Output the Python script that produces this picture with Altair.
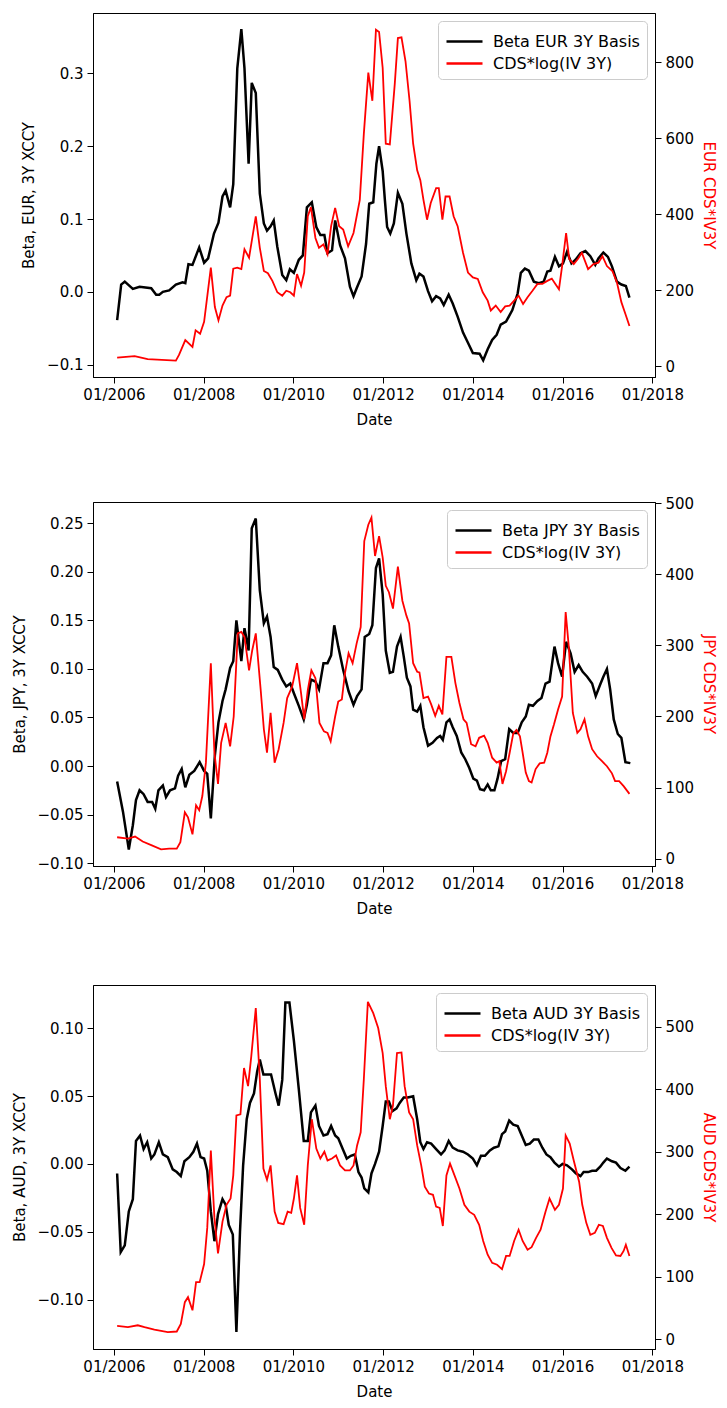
import altair as alt
import pandas as pd

FONT = "DejaVu Sans"

# ---------------- data (fractional years) -------------
eur_beta_t = [2006.07, 2006.16, 2006.24, 2006.42, 2006.57, 2006.83, 2006.94, 2007.01, 2007.09, 2007.23,
              2007.38, 2007.53, 2007.59, 2007.66, 2007.75, 2007.90, 2008.01, 2008.10, 2008.23, 2008.33,
              2008.42, 2008.49, 2008.59, 2008.66, 2008.75, 2008.84, 2008.91, 2009.00, 2009.07, 2009.16,
              2009.25, 2009.34, 2009.41, 2009.49, 2009.56, 2009.64, 2009.75, 2009.84, 2009.92, 2010.01,
              2010.12, 2010.21, 2010.30, 2010.41, 2010.51, 2010.60, 2010.69, 2010.76, 2010.86, 2010.93,
              2011.04, 2011.15, 2011.26, 2011.34, 2011.41, 2011.52, 2011.62, 2011.69, 2011.78, 2011.85,
              2011.91, 2011.99, 2012.04, 2012.09, 2012.16, 2012.24, 2012.33, 2012.43, 2012.52, 2012.63,
              2012.74, 2012.81, 2012.90, 2013.00, 2013.09, 2013.18, 2013.27, 2013.35, 2013.46, 2013.55,
              2013.66, 2013.78, 2013.89, 2014.00, 2014.15, 2014.23, 2014.33, 2014.43, 2014.53, 2014.62,
              2014.74, 2014.88, 2015.00, 2015.07, 2015.16, 2015.25, 2015.36, 2015.47, 2015.58, 2015.66,
              2015.73, 2015.83, 2015.92, 2016.01, 2016.10, 2016.20, 2016.29, 2016.40, 2016.51, 2016.62,
              2016.73, 2016.80, 2016.91, 2017.01, 2017.10, 2017.21, 2017.31, 2017.41, 2017.49]
eur_beta_v = [-0.039, 0.010, 0.014, 0.004, 0.007, 0.005, -0.004, -0.004, 0.000, 0.002,
              0.010, 0.013, 0.012, 0.038, 0.037, 0.061, 0.040, 0.046, 0.080, 0.095,
              0.131, 0.139, 0.116, 0.148, 0.307, 0.361, 0.307, 0.176, 0.287, 0.273,
              0.135, 0.094, 0.084, 0.090, 0.098, 0.062, 0.023, 0.016, 0.031, 0.026,
              0.044, 0.050, 0.116, 0.123, 0.089, 0.078, 0.078, 0.053, 0.057, 0.098,
              0.064, 0.046, 0.007, -0.006, 0.005, 0.021, 0.066, 0.121, 0.123, 0.176,
              0.200, 0.166, 0.126, 0.089, 0.080, 0.094, 0.136, 0.121, 0.080, 0.039,
              0.016, 0.025, 0.021, 0.001, -0.013, -0.006, -0.009, -0.018, -0.004, -0.016,
              -0.034, -0.056, -0.070, -0.084, -0.085, -0.094, -0.079, -0.066, -0.059, -0.045,
              -0.041, -0.025, -0.002, 0.026, 0.032, 0.029, 0.014, 0.012, 0.014, 0.028,
              0.029, 0.048, 0.035, 0.039, 0.055, 0.039, 0.044, 0.053, 0.056, 0.049,
              0.037, 0.046, 0.054, 0.048, 0.035, 0.014, 0.010, 0.008, -0.008]

eur_cds_t = [2006.07, 2006.46, 2006.75, 2007.38, 2007.45, 2007.59, 2007.75, 2007.82, 2007.92, 2008.01,
             2008.16, 2008.25, 2008.33, 2008.42, 2008.51, 2008.59, 2008.66, 2008.75, 2008.84, 2008.91,
             2009.01, 2009.16, 2009.25, 2009.34, 2009.43, 2009.53, 2009.64, 2009.75, 2009.84, 2009.93,
             2010.01, 2010.08, 2010.17, 2010.24, 2010.32, 2010.39, 2010.49, 2010.57, 2010.67, 2010.76,
             2010.84, 2010.93, 2011.02, 2011.11, 2011.22, 2011.34, 2011.48, 2011.57, 2011.67, 2011.76,
             2011.84, 2011.91, 2011.99, 2012.06, 2012.15, 2012.26, 2012.33, 2012.41, 2012.50, 2012.59,
             2012.67, 2012.76, 2012.83, 2012.90, 2012.98, 2013.06, 2013.18, 2013.24, 2013.32, 2013.39,
             2013.48, 2013.57, 2013.66, 2013.78, 2013.89, 2014.00, 2014.11, 2014.22, 2014.33, 2014.40,
             2014.51, 2014.62, 2014.72, 2014.82, 2014.92, 2015.02, 2015.12, 2015.22, 2015.33, 2015.44,
             2015.55, 2015.66, 2015.76, 2015.84, 2015.92, 2015.99, 2016.08, 2016.15, 2016.25, 2016.35,
             2016.43, 2016.57, 2016.69, 2016.80, 2016.89, 2016.99, 2017.11, 2017.21, 2017.31, 2017.40,
             2017.49]
eur_cds_v = [23, 27, 19, 15, 30, 69, 51, 95, 86, 117,
             260, 156, 121, 160, 182, 186, 257, 260, 256, 308,
             286, 395, 312, 251, 245, 225, 195, 186, 199, 195,
             186, 243, 212, 247, 395, 419, 338, 312, 321, 295,
             369, 417, 369, 360, 316, 351, 438, 612, 773, 699,
             886, 880, 786, 586, 584, 743, 864, 866, 803, 699,
             586, 516, 490, 438, 386, 430, 469, 469, 386, 447,
             447, 395, 369, 299, 247, 234, 230, 195, 173, 147,
             160, 143, 158, 160, 173, 186, 164, 182, 199, 217,
             217, 225, 231, 217, 203, 264, 351, 282, 269, 284,
             299, 256, 269, 273, 290, 264, 251, 221, 169, 138,
             106]

jpy_beta_t = [2006.07, 2006.20, 2006.33, 2006.42, 2006.49, 2006.57, 2006.66, 2006.75, 2006.85, 2006.92,
              2006.99, 2007.09, 2007.16, 2007.25, 2007.36, 2007.43, 2007.51, 2007.59, 2007.68, 2007.79,
              2007.91, 2008.01, 2008.08, 2008.16, 2008.25, 2008.33, 2008.42, 2008.49, 2008.59, 2008.66,
              2008.73, 2008.84, 2008.91, 2009.00, 2009.07, 2009.16, 2009.25, 2009.34, 2009.41, 2009.49,
              2009.56, 2009.65, 2009.75, 2009.84, 2009.93, 2010.01, 2010.12, 2010.23, 2010.30, 2010.39,
              2010.49, 2010.57, 2010.67, 2010.76, 2010.84, 2010.91, 2011.00, 2011.11, 2011.23, 2011.34,
              2011.42, 2011.52, 2011.59, 2011.69, 2011.76, 2011.84, 2011.91, 2011.99, 2012.06, 2012.15,
              2012.22, 2012.31, 2012.39, 2012.46, 2012.53, 2012.61, 2012.67, 2012.76, 2012.83, 2012.90,
              2013.00, 2013.10, 2013.20, 2013.27, 2013.33, 2013.41, 2013.48, 2013.55, 2013.64, 2013.74,
              2013.83, 2013.92, 2014.01, 2014.09, 2014.16, 2014.25, 2014.33, 2014.40, 2014.48, 2014.55,
              2014.63, 2014.72, 2014.81, 2014.90, 2015.00, 2015.09, 2015.18, 2015.25, 2015.34, 2015.44,
              2015.53, 2015.62, 2015.71, 2015.82, 2015.90, 2015.99, 2016.08, 2016.18, 2016.27, 2016.36,
              2016.45, 2016.55, 2016.66, 2016.74, 2016.84, 2016.91, 2016.99, 2017.06, 2017.14, 2017.23,
              2017.31, 2017.40, 2017.51]
jpy_beta_v = [-0.016, -0.047, -0.086, -0.061, -0.035, -0.025, -0.029, -0.037, -0.037, -0.044,
              -0.025, -0.020, -0.032, -0.025, -0.023, -0.010, -0.003, -0.022, -0.009, -0.005,
              0.004, -0.005, -0.008, -0.054, 0.011, 0.045, 0.067, 0.079, 0.101, 0.108,
              0.150, 0.108, 0.142, 0.119, 0.245, 0.255, 0.181, 0.147, 0.154, 0.133,
              0.102, 0.099, 0.089, 0.082, 0.085, 0.075, 0.062, 0.048, 0.063, 0.089,
              0.087, 0.079, 0.106, 0.106, 0.114, 0.145, 0.123, 0.099, 0.077, 0.063,
              0.072, 0.079, 0.133, 0.136, 0.145, 0.204, 0.214, 0.177, 0.119, 0.096,
              0.097, 0.123, 0.133, 0.113, 0.091, 0.082, 0.058, 0.056, 0.062, 0.040,
              0.021, 0.024, 0.029, 0.031, 0.027, 0.045, 0.048, 0.040, 0.031, 0.014,
              0.007, -0.002, -0.013, -0.015, -0.024, -0.025, -0.019, -0.025, -0.025, -0.013,
              0.005, 0.007, 0.038, 0.034, 0.034, 0.045, 0.051, 0.063, 0.062, 0.067,
              0.070, 0.085, 0.087, 0.123, 0.106, 0.092, 0.128, 0.116, 0.097, 0.104,
              0.097, 0.092, 0.085, 0.072, 0.084, 0.092, 0.100, 0.079, 0.048, 0.033,
              0.029, 0.004, 0.003]

jpy_cds_t = [2006.07, 2006.31, 2006.47, 2006.64, 2006.83, 2007.05, 2007.23, 2007.40, 2007.48, 2007.58,
             2007.65, 2007.75, 2007.83, 2007.90, 2007.97, 2008.05, 2008.16, 2008.24, 2008.32, 2008.39,
             2008.49, 2008.59, 2008.67, 2008.76, 2008.84, 2008.91, 2009.01, 2009.08, 2009.16, 2009.27,
             2009.34, 2009.41, 2009.49, 2009.58, 2009.67, 2009.78, 2009.86, 2009.97, 2010.08, 2010.17,
             2010.24, 2010.32, 2010.40, 2010.49, 2010.58, 2010.68, 2010.76, 2010.83, 2010.93, 2011.00,
             2011.08, 2011.15, 2011.23, 2011.32, 2011.41, 2011.50, 2011.58, 2011.67, 2011.74, 2011.82,
             2011.91, 2011.99, 2012.06, 2012.13, 2012.22, 2012.33, 2012.43, 2012.52, 2012.58, 2012.67,
             2012.76, 2012.81, 2012.90, 2013.00, 2013.07, 2013.16, 2013.24, 2013.32, 2013.41, 2013.52,
             2013.61, 2013.70, 2013.79, 2013.86, 2013.96, 2014.06, 2014.14, 2014.25, 2014.33, 2014.43,
             2014.53, 2014.59, 2014.66, 2014.74, 2014.82, 2014.90, 2014.97, 2015.05, 2015.11, 2015.18,
             2015.25, 2015.31, 2015.40, 2015.49, 2015.59, 2015.66, 2015.73, 2015.81, 2015.90, 2015.99,
             2016.07, 2016.14, 2016.23, 2016.33, 2016.40, 2016.49, 2016.57, 2016.66, 2016.77, 2016.88,
             2016.99, 2017.10, 2017.17, 2017.26, 2017.36, 2017.49]
jpy_cds_v = [30, 28, 31, 24, 19, 13, 14, 14, 23, 65,
             58, 34, 75, 68, 88, 135, 275, 149, 105, 163,
             191, 158, 200, 317, 319, 312, 265, 293, 317, 237,
             182, 149, 205, 135, 154, 191, 226, 242, 275, 233,
             196, 237, 265, 254, 191, 179, 177, 165, 200, 221,
             224, 261, 289, 275, 303, 326, 447, 470, 480, 426,
             454, 424, 384, 375, 352, 411, 363, 342, 331, 275,
             263, 262, 226, 228, 217, 201, 215, 203, 284, 284,
             247, 219, 196, 191, 161, 158, 170, 173, 163, 142,
             135, 137, 105, 123, 149, 176, 181, 172, 149, 121,
             109, 107, 126, 134, 135, 149, 172, 189, 210, 228,
             347, 298, 205, 177, 182, 196, 172, 154, 144, 137,
             130, 120, 109, 109, 102, 91]

aud_beta_t = [2006.07, 2006.15, 2006.24, 2006.33, 2006.42, 2006.49, 2006.58, 2006.66, 2006.74, 2006.83,
              2006.90, 2007.00, 2007.09, 2007.20, 2007.31, 2007.40, 2007.49, 2007.57, 2007.68, 2007.77,
              2007.85, 2007.93, 2008.01, 2008.08, 2008.16, 2008.24, 2008.32, 2008.42, 2008.49, 2008.56,
              2008.65, 2008.73, 2008.81, 2008.88, 2008.96, 2009.03, 2009.12, 2009.19, 2009.25, 2009.33,
              2009.41, 2009.50, 2009.60, 2009.67, 2009.75, 2009.82, 2009.91, 2010.01, 2010.12, 2010.23,
              2010.32, 2010.39, 2010.49, 2010.57, 2010.67, 2010.76, 2010.84, 2010.93, 2011.00, 2011.10,
              2011.19, 2011.28, 2011.37, 2011.45, 2011.52, 2011.58, 2011.67, 2011.74, 2011.82, 2011.91,
              2011.99, 2012.06, 2012.13, 2012.21, 2012.30, 2012.37, 2012.46, 2012.55, 2012.67, 2012.76,
              2012.83, 2012.90, 2012.98, 2013.07, 2013.18, 2013.29, 2013.37, 2013.46, 2013.55, 2013.66,
              2013.78, 2013.89, 2014.00, 2014.09, 2014.18, 2014.27, 2014.38, 2014.47, 2014.57, 2014.65,
              2014.72, 2014.81, 2014.90, 2015.00, 2015.09, 2015.18, 2015.27, 2015.36, 2015.46, 2015.55,
              2015.64, 2015.73, 2015.82, 2015.92, 2016.00, 2016.10, 2016.21, 2016.30, 2016.40, 2016.47,
              2016.57, 2016.66, 2016.75, 2016.84, 2016.91, 2016.99, 2017.10, 2017.19, 2017.29, 2017.40,
              2017.49]
aud_beta_v = [-0.007, -0.065, -0.060, -0.035, -0.026, 0.017, 0.021, 0.011, 0.016, 0.004,
              0.007, 0.016, 0.007, 0.005, -0.004, -0.006, -0.009, 0.002, 0.005, 0.009,
              0.015, 0.005, 0.004, -0.005, -0.035, -0.057, -0.037, -0.026, -0.030, -0.045,
              -0.052, -0.124, -0.050, -0.001, 0.033, 0.045, 0.052, 0.068, 0.077, 0.066,
              0.066, 0.066, 0.052, 0.043, 0.062, 0.119, 0.119, 0.091, 0.055, 0.017,
              0.017, 0.038, 0.043, 0.028, 0.021, 0.022, 0.028, 0.021, 0.019, 0.011,
              0.004, 0.006, 0.007, -0.006, -0.010, -0.018, -0.021, -0.007, 0.000, 0.009,
              0.028, 0.046, 0.046, 0.039, 0.041, 0.045, 0.049, 0.049, 0.050, 0.033,
              0.016, 0.011, 0.016, 0.015, 0.011, 0.007, 0.010, 0.017, 0.012, 0.010,
              0.009, 0.007, 0.004, -0.001, 0.006, 0.006, 0.010, 0.012, 0.013, 0.022,
              0.024, 0.032, 0.029, 0.028, 0.021, 0.014, 0.015, 0.018, 0.018, 0.012,
              0.007, 0.005, 0.001, -0.002, 0.000, -0.001, -0.004, -0.007, -0.009, -0.006,
              -0.006, -0.005, -0.005, -0.002, 0.001, 0.004, 0.002, 0.001, -0.003, -0.005,
              -0.002]

aud_cds_t = [2006.07, 2006.31, 2006.53, 2006.68, 2006.90, 2007.20, 2007.40, 2007.49, 2007.58, 2007.65,
             2007.75, 2007.83, 2007.91, 2008.01, 2008.08, 2008.16, 2008.24, 2008.32, 2008.42, 2008.51,
             2008.60, 2008.66, 2008.73, 2008.82, 2008.90, 2008.99, 2009.06, 2009.16, 2009.25, 2009.33,
             2009.41, 2009.49, 2009.58, 2009.66, 2009.78, 2009.87, 2009.95, 2010.01, 2010.08, 2010.15,
             2010.24, 2010.32, 2010.41, 2010.51, 2010.60, 2010.69, 2010.76, 2010.86, 2010.95, 2011.04,
             2011.15, 2011.26, 2011.34, 2011.42, 2011.50, 2011.57, 2011.66, 2011.78, 2011.89, 2011.99,
             2012.06, 2012.15, 2012.22, 2012.31, 2012.41, 2012.48, 2012.58, 2012.67, 2012.76, 2012.85,
             2012.93, 2013.02, 2013.11, 2013.18, 2013.26, 2013.33, 2013.41, 2013.49, 2013.59, 2013.70,
             2013.81, 2013.92, 2014.03, 2014.14, 2014.23, 2014.33, 2014.43, 2014.54, 2014.65, 2014.74,
             2014.82, 2014.92, 2015.02, 2015.11, 2015.22, 2015.31, 2015.41, 2015.51, 2015.62, 2015.71,
             2015.83, 2015.92, 2016.01, 2016.07, 2016.16, 2016.25, 2016.37, 2016.44, 2016.53, 2016.62,
             2016.72, 2016.81, 2016.90, 2016.99, 2017.09, 2017.19, 2017.29, 2017.36, 2017.41, 2017.49]
aud_cds_v = [21, 19, 22, 19, 15, 11, 12, 24, 59, 67,
             46, 91, 91, 120, 178, 302, 194, 137, 188, 215,
             225, 262, 358, 360, 434, 405, 453, 530, 416, 273,
             255, 278, 204, 186, 184, 204, 202, 225, 262, 210,
             183, 278, 352, 305, 289, 300, 286, 289, 294, 278,
             270, 270, 278, 310, 331, 416, 540, 522, 498, 458,
             405, 352, 374, 458, 459, 405, 363, 352, 310, 278,
             244, 233, 231, 212, 210, 181, 262, 281, 262, 241,
             215, 204, 199, 183, 157, 135, 122, 119, 112, 133,
             133, 157, 175, 157, 143, 147, 162, 175, 204, 225,
             207, 215, 241, 326, 313, 286, 252, 215, 186, 167,
             170, 183, 181, 162, 146, 134, 133, 141, 151, 133]

CDS_LABEL = "CDS*log(IV 3Y)"
X_TICK_YEARS = [2006, 2008, 2010, 2012, 2014, 2016, 2018]

W, H = 562, 364


def to_dates(ts):
    return [pd.Timestamp(int(t), 1, 1) + pd.Timedelta(days=(t - int(t)) * 365.25) for t in ts]


def panel(ccy, bt, bv, ct, cv, ldom, lticks, lfmt, rdom, rticks):
    beta_label = f"Beta {ccy} 3Y Basis"
    df_b = pd.DataFrame({"date": to_dates(bt), "value": bv, "series": beta_label})
    df_c = pd.DataFrame({"date": to_dates(ct), "value": cv, "series": CDS_LABEL})

    color = alt.Color(
        "series:N",
        scale=alt.Scale(domain=[beta_label, CDS_LABEL], range=["#000000", "#ff0000"]),
        legend=alt.Legend(
            title=None, orient="top-right", offset=8,
            fillColor="white", strokeColor="#cccccc", cornerRadius=4,
            padding=7, symbolType="M-1.5,0H1.5", symbolSize=576,
            symbolStrokeWidth=2.3, symbolOffset=6,
            labelFont=FONT, labelFontSize=16,
            labelColor="#000000", labelOffset=15, rowPadding=0,
        ),
    )
    x = alt.X(
        "date:T",
        scale=alt.Scale(
            domain=[alt.DateTime(year=2005, month=7, date=14),
                    alt.DateTime(year=2018, month=1, date=23)],
            nice=False,
        ),
        axis=alt.Axis(
            title="Date", format="%m/%Y", labelFlush=False,
            values=[alt.DateTime(year=y, month=1, date=1) for y in X_TICK_YEARS],
        ),
    )
    beta = alt.Chart(df_b).mark_line(strokeWidth=2.5).encode(
        x=x,
        y=alt.Y("value:Q", scale=alt.Scale(domain=ldom, nice=False, zero=False),
                axis=alt.Axis(orient="left", title=f"Beta, {ccy}, 3Y XCCY",
                              values=lticks, format=lfmt, titlePadding=10)),
        color=color,
    )
    cds = alt.Chart(df_c).mark_line(strokeWidth=1.8).encode(
        x=x,
        y=alt.Y("value:Q", scale=alt.Scale(domain=rdom, nice=False, zero=False),
                axis=alt.Axis(orient="right", title=f"{ccy} CDS*IV3Y", titleColor="#ff0000",
                              values=rticks, format="d", titlePadding=7)),
        color=color,
    )
    return alt.layer(beta, cds).resolve_scale(y="independent").properties(width=W, height=H)


p1 = panel("EUR", eur_beta_t, eur_beta_v, eur_cds_t, eur_cds_v,
           [-0.117, 0.383], [-0.1, 0.0, 0.1, 0.2, 0.3], ".1f",
           [-28, 930], [0, 200, 400, 600, 800])
p2 = panel("JPY", jpy_beta_t, jpy_beta_v, jpy_cds_t, jpy_cds_v,
           [-0.103, 0.272], [-0.10, -0.05, 0.0, 0.05, 0.10, 0.15, 0.20, 0.25], ".2f",
           [-10.5, 502], [0, 100, 200, 300, 400, 500])
p3 = panel("AUD", aud_beta_t, aud_beta_v, aud_cds_t, aud_cds_v,
           [-0.1365, 0.132], [-0.10, -0.05, 0.0, 0.05, 0.10], ".2f",
           [-16, 567], [0, 100, 200, 300, 400, 500])

chart = (
    alt.vconcat(p1, p2, p3, spacing=67)
    .resolve_scale(color="independent")
    .resolve_legend(color="independent")
    .properties(padding={"left": 3, "top": 4, "right": 0, "bottom": 2})
    .configure(background="white")
    .configure_view(stroke="#000000", strokeWidth=1)
    .configure_axis(
        grid=False, domainColor="#000000", domainWidth=1,
        tickColor="#000000", tickSize=6, tickWidth=1, labelPadding=4,
        labelFont=FONT, labelFontSize=15, labelColor="#000000",
        titleFont=FONT, titleFontSize=15, titleFontWeight="normal", titleColor="#000000",
    )
    .configure_axisX(titlePadding=10)
)

chart.save("out.html", embed_options={"renderer": "svg", "actions": False})
